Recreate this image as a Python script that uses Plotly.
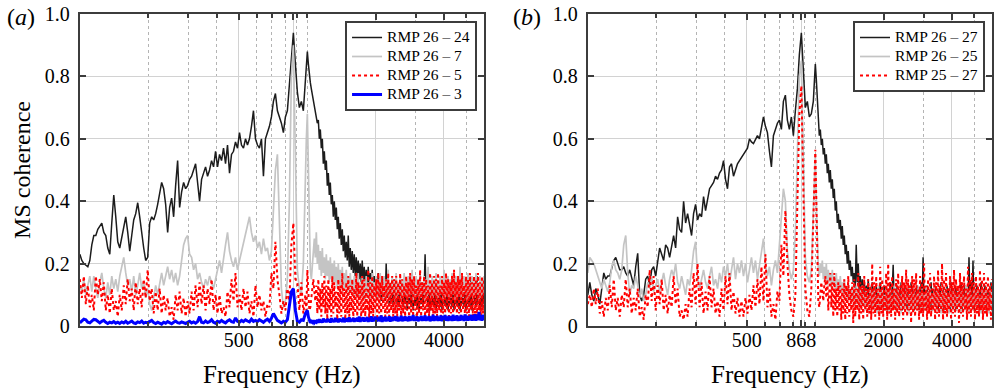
import numpy as np
import plotly.graph_objects as go

# ---------------- data ----------------
# analysis frequency bins (Hz): coarser below 1 kHz, finer above
freq_hz = np.concatenate([np.geomspace(100.0, 982.0, 114),
                          np.geomspace(992.0, 5997.0, 179)])

x_tick_vals = [500, 868, 2000, 4000]
x_tick_text = ["500", "868", "2000", "4000"]
x_minor_vals = [200, 300, 400, 600, 700, 800, 900, 1000, 3000, 5000, 6000]
y_tick_vals = [0, 0.2, 0.4, 0.6, 0.8, 1.0]
y_tick_text = ["0", "0.2", "0.4", "0.6", "0.8", "1.0"]

# ---- panel (a) ----
a_rmp_26_24 = [
    0.23, 0.21, 0.20, 0.195, 0.19, 0.21, 0.26, 0.29, 0.29, 0.31,
    0.32, 0.33, 0.30, 0.29, 0.25, 0.23, 0.33, 0.42, 0.35, 0.27,
    0.25, 0.28, 0.31, 0.35, 0.30, 0.24, 0.29, 0.34, 0.36, 0.395,
    0.35, 0.29, 0.25, 0.21, 0.22, 0.33, 0.35, 0.34, 0.36, 0.39,
    0.43, 0.46, 0.44, 0.39, 0.30, 0.38, 0.41, 0.35, 0.45, 0.53,
    0.38, 0.43, 0.46, 0.44, 0.45, 0.47, 0.48, 0.50, 0.52, 0.46,
    0.40, 0.47, 0.49, 0.51, 0.48, 0.50, 0.53, 0.51, 0.56, 0.51,
    0.55, 0.53, 0.57, 0.52, 0.58, 0.49, 0.55, 0.56, 0.59, 0.57,
    0.62, 0.58, 0.57, 0.60, 0.58, 0.60, 0.64, 0.69, 0.60, 0.58,
    0.57, 0.60, 0.48, 0.60, 0.62, 0.64, 0.67, 0.72, 0.745, 0.69,
    0.67, 0.65, 0.62, 0.67, 0.69, 0.78, 0.88, 0.94, 0.84, 0.75,
    0.70, 0.72, 0.69, 0.80,
    # above 1 kHz
    0.86, 0.88, 0.84, 0.80, 0.78, 0.76, 0.74, 0.72, 0.70, 0.69,
    0.67, 0.65, 0.66, 0.60, 0.63, 0.57, 0.60, 0.52, 0.56, 0.50,
    0.53, 0.45, 0.49, 0.42, 0.46, 0.39, 0.42, 0.35, 0.40, 0.34,
    0.38, 0.31, 0.35, 0.28, 0.33, 0.26, 0.31, 0.24, 0.29, 0.22,
    0.27, 0.21, 0.29, 0.19, 0.25, 0.18, 0.24, 0.17, 0.23, 0.16,
    0.22, 0.16, 0.21, 0.15, 0.20, 0.14, 0.21, 0.14, 0.19, 0.13,
    0.18, 0.12, 0.19, 0.12, 0.17, 0.11, 0.18, 0.10, 0.16, 0.11,
    0.15, 0.09, 0.17, 0.10, 0.14, 0.08, 0.16, 0.09, 0.15, 0.08,
    0.20, 0.09, 0.14, 0.07, 0.13, 0.08, 0.15, 0.06, 0.12, 0.08,
    0.14, 0.07, 0.12, 0.06, 0.15, 0.08, 0.11, 0.06, 0.13, 0.07,
    0.12, 0.05, 0.14, 0.07, 0.11, 0.06, 0.13, 0.05, 0.12, 0.07,
    0.13, 0.06, 0.11, 0.05, 0.12, 0.07, 0.14, 0.06, 0.11, 0.23,
    0.08, 0.12, 0.06, 0.11, 0.05, 0.13, 0.07, 0.12, 0.06, 0.11,
    0.05, 0.12, 0.07, 0.13, 0.06, 0.11, 0.05, 0.12, 0.07, 0.14,
    0.06, 0.12, 0.05, 0.11, 0.07, 0.13, 0.06, 0.12, 0.05, 0.11,
    0.07, 0.13, 0.06, 0.12, 0.05, 0.11, 0.07, 0.14, 0.06, 0.12,
    0.05, 0.11, 0.07, 0.12, 0.06, 0.15, 0.05, 0.11, 0.07, 0.13,
    0.06, 0.16, 0.07, 0.12, 0.05, 0.11, 0.06, 0.12, 0.07,
]
a_rmp_26_7 = [
    0.13, 0.11, 0.15, 0.10, 0.13, 0.16, 0.11, 0.16, 0.12, 0.09,
    0.14, 0.17, 0.12, 0.09, 0.14, 0.10, 0.16, 0.12, 0.15, 0.11,
    0.16, 0.19, 0.22, 0.17, 0.13, 0.15, 0.11, 0.16, 0.10, 0.13,
    0.17, 0.12, 0.14, 0.09, 0.12, 0.07, 0.05, 0.09, 0.13, 0.10,
    0.13, 0.17, 0.13, 0.16, 0.19, 0.15, 0.18, 0.14, 0.17, 0.13,
    0.16, 0.21, 0.26, 0.28, 0.29, 0.23, 0.22, 0.18, 0.20, 0.15,
    0.17, 0.14, 0.12, 0.15, 0.13, 0.16, 0.14, 0.12, 0.15, 0.18,
    0.21, 0.17, 0.22, 0.26, 0.30, 0.24, 0.21, 0.19, 0.22, 0.18,
    0.21, 0.24, 0.27, 0.30, 0.33, 0.35, 0.30, 0.27, 0.29, 0.25,
    0.27, 0.23, 0.28, 0.24, 0.25, 0.21, 0.24, 0.35, 0.50, 0.55,
    0.30, 0.12, 0.06, 0.08, 0.15, 0.40, 0.80, 0.90, 0.55, 0.18,
    0.12, 0.10, 0.20, 0.55,
    # above 1 kHz
    0.60, 0.68, 0.50, 0.30, 0.18, 0.15, 0.20, 0.24, 0.28, 0.22,
    0.30, 0.20, 0.26, 0.18, 0.24, 0.16, 0.25, 0.17, 0.22, 0.15,
    0.23, 0.16, 0.21, 0.14, 0.22, 0.15, 0.20, 0.13, 0.21, 0.14,
    0.19, 0.12, 0.20, 0.13, 0.18, 0.12, 0.19, 0.11, 0.17, 0.12,
    0.18, 0.11, 0.16, 0.10, 0.17, 0.11, 0.15, 0.10, 0.16, 0.09,
    0.15, 0.10, 0.17, 0.09, 0.14, 0.10, 0.16, 0.09, 0.15, 0.08,
    0.16, 0.09, 0.14, 0.10, 0.15, 0.08, 0.17, 0.09, 0.14, 0.10,
    0.16, 0.08, 0.15, 0.09, 0.17, 0.10, 0.14, 0.08, 0.16, 0.09,
    0.15, 0.10, 0.18, 0.08, 0.14, 0.09, 0.16, 0.10, 0.15, 0.08,
    0.17, 0.09, 0.14, 0.10, 0.16, 0.08, 0.15, 0.09, 0.17, 0.10,
    0.14, 0.08, 0.16, 0.09, 0.15, 0.10, 0.18, 0.08, 0.14, 0.09,
    0.16, 0.10, 0.15, 0.08, 0.17, 0.09, 0.14, 0.10, 0.16, 0.08,
    0.15, 0.09, 0.19, 0.10, 0.14, 0.08, 0.16, 0.09, 0.15, 0.10,
    0.17, 0.08, 0.14, 0.09, 0.16, 0.10, 0.15, 0.08, 0.18, 0.09,
    0.14, 0.10, 0.16, 0.08, 0.15, 0.09, 0.17, 0.10, 0.14, 0.08,
    0.16, 0.09, 0.15, 0.10, 0.19, 0.08, 0.14, 0.09, 0.16, 0.10,
    0.15, 0.08, 0.17, 0.09, 0.14, 0.10, 0.16, 0.08, 0.15, 0.09,
    0.17, 0.10, 0.14, 0.08, 0.16, 0.09, 0.15, 0.10, 0.16,
]
a_rmp_26_5 = [
    0.15, 0.09, 0.16, 0.07, 0.13, 0.06, 0.10, 0.05, 0.16, 0.10,
    0.15, 0.08, 0.14, 0.05, 0.10, 0.04, 0.12, 0.05, 0.08, 0.03,
    0.10, 0.05, 0.13, 0.07, 0.15, 0.08, 0.12, 0.05, 0.14, 0.07,
    0.12, 0.06, 0.15, 0.09, 0.18, 0.08, 0.12, 0.04, 0.11, 0.05,
    0.12, 0.04, 0.10, 0.05, 0.09, 0.03, 0.06, 0.02, 0.10, 0.05,
    0.11, 0.04, 0.09, 0.03, 0.08, 0.04, 0.11, 0.05, 0.13, 0.06,
    0.14, 0.07, 0.13, 0.05, 0.12, 0.07, 0.15, 0.05, 0.10, 0.04,
    0.10, 0.04, 0.06, 0.03, 0.11, 0.06, 0.15, 0.08, 0.17, 0.06,
    0.10, 0.05, 0.12, 0.06, 0.11, 0.04, 0.08, 0.03, 0.13, 0.06,
    0.10, 0.05, 0.08, 0.03, 0.07, 0.06, 0.17, 0.12, 0.27, 0.15,
    0.10, 0.04, 0.08, 0.05, 0.12, 0.08, 0.26, 0.33, 0.15, 0.14,
    0.05, 0.14, 0.04, 0.10,
    # above 1 kHz
    0.05, 0.18, 0.11, 0.05, 0.06, 0.10, 0.13, 0.15, 0.11, 0.08,
    0.13, 0.04, 0.15, 0.05, 0.12, 0.03, 0.14, 0.06, 0.16, 0.04,
    0.13, 0.02, 0.15, 0.05, 0.12, 0.03, 0.16, 0.04, 0.14, 0.06,
    0.11, 0.02, 0.15, 0.04, 0.13, 0.03, 0.17, 0.05, 0.12, 0.02,
    0.14, 0.04, 0.16, 0.03, 0.13, 0.05, 0.15, 0.02, 0.12, 0.04,
    0.17, 0.03, 0.14, 0.05, 0.13, 0.02, 0.16, 0.04, 0.15, 0.03,
    0.12, 0.05, 0.18, 0.02, 0.14, 0.04, 0.16, 0.03, 0.13, 0.05,
    0.15, 0.02, 0.17, 0.04, 0.14, 0.03, 0.16, 0.05, 0.13, 0.02,
    0.15, 0.04, 0.17, 0.03, 0.14, 0.05, 0.16, 0.03, 0.15, 0.04,
    0.16, 0.03, 0.14, 0.05, 0.17, 0.02, 0.15, 0.04, 0.13, 0.03,
    0.16, 0.05, 0.14, 0.02, 0.17, 0.04, 0.15, 0.03, 0.16, 0.05,
    0.13, 0.02, 0.15, 0.04, 0.18, 0.03, 0.14, 0.05, 0.16, 0.02,
    0.15, 0.04, 0.13, 0.03, 0.17, 0.05, 0.14, 0.02, 0.16, 0.04,
    0.15, 0.03, 0.17, 0.05, 0.13, 0.02, 0.16, 0.04, 0.14, 0.03,
    0.17, 0.05, 0.15, 0.02, 0.14, 0.04, 0.16, 0.03, 0.18, 0.05,
    0.14, 0.02, 0.16, 0.04, 0.15, 0.03, 0.17, 0.05, 0.13, 0.02,
    0.16, 0.04, 0.15, 0.03, 0.17, 0.05, 0.14, 0.02, 0.16, 0.04,
    0.15, 0.03, 0.17, 0.05, 0.14, 0.02, 0.16, 0.04, 0.15,
]
a_rmp_26_3 = [
    0.010, 0.016, 0.022, 0.020, 0.012, 0.010, 0.016, 0.021, 0.020, 0.014,
    0.010, 0.015, 0.018, 0.012, 0.008, 0.012, 0.010, 0.014, 0.009, 0.012,
    0.008, 0.013, 0.010, 0.015, 0.009, 0.012, 0.016, 0.010, 0.008, 0.013,
    0.011, 0.016, 0.009, 0.012, 0.010, 0.014, 0.018, 0.011, 0.008, 0.012,
    0.010, 0.006, 0.012, 0.009, 0.014, 0.010, 0.007, 0.012, 0.016, 0.011,
    0.009, 0.013, 0.010, 0.008, 0.012, 0.015, 0.010, 0.013, 0.009, 0.014,
    0.030, 0.012, 0.010, 0.016, 0.011, 0.014, 0.020, 0.012, 0.009, 0.015,
    0.012, 0.018, 0.013, 0.010, 0.016, 0.020, 0.014, 0.012, 0.026, 0.015,
    0.012, 0.018, 0.014, 0.020, 0.016, 0.013, 0.022, 0.015, 0.018, 0.014,
    0.020, 0.016, 0.012, 0.018, 0.022, 0.015, 0.025, 0.040, 0.030, 0.018,
    0.014, 0.010, 0.015, 0.012, 0.020, 0.060, 0.110, 0.120, 0.050, 0.015,
    0.012, 0.020, 0.018, 0.040,
    # above 1 kHz
    0.045, 0.050, 0.030, 0.015, 0.010, 0.015, 0.012, 0.018, 0.010, 0.014,
    0.012, 0.020, 0.010, 0.022, 0.012, 0.019, 0.011, 0.024, 0.013, 0.020,
    0.012, 0.023, 0.014, 0.021, 0.011, 0.025, 0.013, 0.020, 0.012, 0.026,
    0.014, 0.022, 0.012, 0.024, 0.015, 0.021, 0.013, 0.027, 0.012, 0.023,
    0.015, 0.025, 0.013, 0.028, 0.014, 0.022, 0.016, 0.026, 0.013, 0.024,
    0.015, 0.027, 0.014, 0.030, 0.013, 0.025, 0.016, 0.028, 0.014, 0.026,
    0.016, 0.029, 0.013, 0.025, 0.015, 0.031, 0.014, 0.027, 0.016, 0.030,
    0.014, 0.026, 0.016, 0.029, 0.015, 0.034, 0.013, 0.028, 0.016, 0.030,
    0.015, 0.027, 0.017, 0.031, 0.014, 0.029, 0.016, 0.028, 0.018, 0.032,
    0.016, 0.030, 0.015, 0.027, 0.017, 0.033, 0.015, 0.029, 0.016, 0.031,
    0.017, 0.028, 0.015, 0.032, 0.016, 0.030, 0.018, 0.035, 0.016, 0.029,
    0.017, 0.031, 0.015, 0.028, 0.018, 0.033, 0.016, 0.030, 0.017, 0.034,
    0.016, 0.029, 0.018, 0.032, 0.015, 0.030, 0.017, 0.036, 0.016, 0.031,
    0.018, 0.033, 0.016, 0.029, 0.017, 0.034, 0.015, 0.031, 0.018, 0.035,
    0.017, 0.030, 0.016, 0.033, 0.018, 0.031, 0.016, 0.036, 0.017, 0.032,
    0.018, 0.034, 0.016, 0.030, 0.017, 0.035, 0.019, 0.032, 0.016, 0.037,
    0.018, 0.033, 0.017, 0.031, 0.019, 0.036, 0.017, 0.034, 0.018, 0.038,
    0.017, 0.035, 0.019, 0.045, 0.018, 0.034, 0.017, 0.036, 0.019,
]

# ---- panel (b) ----
b_rmp_26_27 = [
    0.10, 0.14, 0.10, 0.08, 0.12, 0.10, 0.07, 0.12, 0.17, 0.15,
    0.16, 0.16, 0.19, 0.21, 0.22, 0.20, 0.18, 0.18, 0.19, 0.17,
    0.16, 0.18, 0.15, 0.13, 0.19, 0.233, 0.10, 0.08, 0.10, 0.15,
    0.16, 0.13, 0.18, 0.19, 0.16, 0.20, 0.25, 0.23, 0.21, 0.26,
    0.25, 0.22, 0.26, 0.29, 0.25, 0.35, 0.31, 0.30, 0.40, 0.33,
    0.36, 0.33, 0.29, 0.36, 0.39, 0.34, 0.36, 0.35, 0.415, 0.37,
    0.40, 0.44, 0.45, 0.46, 0.48, 0.47, 0.49, 0.50, 0.53, 0.47,
    0.44, 0.51, 0.52, 0.48, 0.50, 0.52, 0.53, 0.54, 0.55, 0.56,
    0.57, 0.60, 0.59, 0.585, 0.60, 0.61, 0.60, 0.64, 0.67, 0.64,
    0.62, 0.56, 0.51, 0.61, 0.63, 0.65, 0.66, 0.63, 0.72, 0.74,
    0.66, 0.63, 0.67, 0.61, 0.69, 0.76, 0.87, 0.94, 0.82, 0.70,
    0.72, 0.67, 0.68, 0.72,
    # above 1 kHz
    0.78, 0.84, 0.79, 0.73, 0.66, 0.61, 0.63, 0.58, 0.60, 0.55,
    0.57, 0.52, 0.55, 0.49, 0.52, 0.46, 0.50, 0.44, 0.47, 0.41,
    0.44, 0.37, 0.40, 0.33, 0.36, 0.31, 0.34, 0.28, 0.32, 0.26,
    0.29, 0.23, 0.26, 0.20, 0.24, 0.18, 0.21, 0.16, 0.19, 0.14,
    0.17, 0.12, 0.26, 0.14, 0.20, 0.11, 0.16, 0.10, 0.15, 0.09,
    0.14, 0.08, 0.13, 0.07, 0.15, 0.09, 0.12, 0.06, 0.14, 0.08,
    0.12, 0.06, 0.13, 0.07, 0.11, 0.05, 0.14, 0.08, 0.12, 0.06,
    0.13, 0.07, 0.11, 0.05, 0.12, 0.08, 0.14, 0.06, 0.11, 0.196,
    0.07, 0.12, 0.05, 0.13, 0.07, 0.11, 0.06, 0.14, 0.05, 0.12,
    0.07, 0.13, 0.06, 0.11, 0.05, 0.12, 0.07, 0.14, 0.06, 0.12,
    0.05, 0.11, 0.07, 0.13, 0.06, 0.12, 0.05, 0.14, 0.07, 0.22,
    0.06, 0.12, 0.05, 0.13, 0.07, 0.11, 0.06, 0.14, 0.05, 0.12,
    0.07, 0.13, 0.06, 0.11, 0.05, 0.12, 0.07, 0.14, 0.06, 0.12,
    0.05, 0.11, 0.07, 0.13, 0.06, 0.12, 0.05, 0.14, 0.07, 0.11,
    0.06, 0.13, 0.05, 0.12, 0.07, 0.11, 0.06, 0.14, 0.05, 0.12,
    0.07, 0.13, 0.06, 0.11, 0.05, 0.22, 0.07, 0.14, 0.06, 0.21,
    0.05, 0.12, 0.07, 0.13, 0.06, 0.11, 0.05, 0.14, 0.07, 0.12,
    0.06, 0.13, 0.05, 0.11, 0.07, 0.12, 0.06, 0.14, 0.05,
]
b_rmp_26_25 = [
    0.17, 0.22, 0.21, 0.20, 0.18, 0.16, 0.14, 0.12, 0.15, 0.13,
    0.11, 0.14, 0.19, 0.21, 0.18, 0.17, 0.15, 0.18, 0.26, 0.29,
    0.17, 0.10, 0.13, 0.12, 0.16, 0.13, 0.09, 0.12, 0.08, 0.10,
    0.14, 0.12, 0.16, 0.11, 0.13, 0.15, 0.11, 0.14, 0.17, 0.13,
    0.10, 0.15, 0.18, 0.16, 0.20, 0.14, 0.12, 0.16, 0.13, 0.10,
    0.15, 0.13, 0.18, 0.24, 0.27, 0.16, 0.12, 0.15, 0.18, 0.14,
    0.12, 0.16, 0.19, 0.13, 0.15, 0.12, 0.17, 0.14, 0.19, 0.16,
    0.20, 0.14, 0.18, 0.22, 0.15, 0.20, 0.17, 0.21, 0.16, 0.20,
    0.14, 0.18, 0.22, 0.17, 0.21, 0.15, 0.19, 0.23, 0.28, 0.20,
    0.16, 0.19, 0.13, 0.18, 0.21, 0.17, 0.25, 0.35, 0.44, 0.40,
    0.24, 0.18, 0.15, 0.18, 0.30, 0.55, 0.80, 0.85, 0.50, 0.22,
    0.16, 0.14, 0.18, 0.40,
    # above 1 kHz
    0.50, 0.55, 0.40, 0.25, 0.18, 0.16, 0.20, 0.17, 0.21, 0.15,
    0.19, 0.14, 0.20, 0.13, 0.18, 0.14, 0.17, 0.12, 0.18, 0.13,
    0.16, 0.11, 0.17, 0.12, 0.15, 0.10, 0.16, 0.11, 0.14, 0.09,
    0.15, 0.10, 0.13, 0.08, 0.14, 0.09, 0.12, 0.07, 0.13, 0.08,
    0.12, 0.06, 0.13, 0.07, 0.11, 0.05, 0.12, 0.06, 0.13, 0.07,
    0.11, 0.05, 0.12, 0.06, 0.10, 0.04, 0.13, 0.06, 0.11, 0.05,
    0.12, 0.07, 0.10, 0.04, 0.13, 0.06, 0.11, 0.05, 0.12, 0.07,
    0.10, 0.05, 0.13, 0.06, 0.11, 0.04, 0.12, 0.07, 0.10, 0.05,
    0.13, 0.06, 0.11, 0.05, 0.12, 0.07, 0.10, 0.04, 0.14, 0.06,
    0.11, 0.05, 0.12, 0.07, 0.10, 0.04, 0.13, 0.06, 0.11, 0.05,
    0.12, 0.06, 0.10, 0.05, 0.13, 0.07, 0.11, 0.04, 0.12, 0.06,
    0.10, 0.05, 0.13, 0.06, 0.11, 0.04, 0.12, 0.07, 0.10, 0.05,
    0.13, 0.06, 0.11, 0.05, 0.12, 0.07, 0.10, 0.04, 0.14, 0.06,
    0.11, 0.05, 0.12, 0.07, 0.10, 0.04, 0.13, 0.06, 0.11, 0.05,
    0.12, 0.06, 0.10, 0.05, 0.13, 0.07, 0.11, 0.04, 0.12, 0.06,
    0.10, 0.05, 0.13, 0.06, 0.11, 0.04, 0.12, 0.07, 0.10, 0.05,
    0.13, 0.06, 0.11, 0.05, 0.12, 0.07, 0.10, 0.04, 0.12, 0.06,
    0.11, 0.05, 0.12, 0.07, 0.10, 0.04, 0.13, 0.06, 0.11,
]
b_rmp_25_27 = [
    0.07, 0.10, 0.06, 0.12, 0.07, 0.12, 0.04, 0.08, 0.03, 0.09,
    0.05, 0.13, 0.06, 0.15, 0.05, 0.09, 0.03, 0.10, 0.06, 0.15,
    0.06, 0.12, 0.04, 0.09, 0.05, 0.12, 0.03, 0.06, 0.02, 0.10,
    0.06, 0.18, 0.08, 0.16, 0.05, 0.13, 0.07, 0.15, 0.05, 0.10,
    0.04, 0.10, 0.06, 0.16, 0.07, 0.12, 0.03, 0.05, 0.02, 0.07,
    0.03, 0.12, 0.06, 0.17, 0.07, 0.20, 0.06, 0.14, 0.04, 0.11,
    0.05, 0.16, 0.06, 0.12, 0.04, 0.08, 0.03, 0.12, 0.05, 0.16,
    0.07, 0.17, 0.05, 0.11, 0.04, 0.09, 0.03, 0.08, 0.03, 0.09,
    0.04, 0.10, 0.05, 0.13, 0.06, 0.15, 0.07, 0.19, 0.08, 0.23,
    0.06, 0.12, 0.03, 0.07, 0.02, 0.11, 0.08, 0.26, 0.16, 0.37,
    0.20, 0.10, 0.05, 0.03, 0.10, 0.40, 0.68, 0.77, 0.40, 0.12,
    0.05, 0.03, 0.12, 0.40,
    # above 1 kHz
    0.45, 0.565, 0.40, 0.20, 0.08, 0.06, 0.10, 0.14, 0.11, 0.08,
    0.13, 0.16, 0.09, 0.15, 0.05, 0.12, 0.17, 0.06, 0.14, 0.03,
    0.17, 0.05, 0.12, 0.03, 0.14, 0.05, 0.13, 0.02, 0.12, 0.04,
    0.15, 0.02, 0.13, 0.04, 0.16, 0.03, 0.12, 0.05, 0.14, 0.01,
    0.15, 0.03, 0.12, 0.05, 0.17, 0.02, 0.14, 0.04, 0.13, 0.02,
    0.16, 0.05, 0.12, 0.03, 0.15, 0.04, 0.13, 0.02, 0.20, 0.04,
    0.14, 0.03, 0.16, 0.05, 0.12, 0.02, 0.19, 0.04, 0.15, 0.03,
    0.13, 0.05, 0.17, 0.02, 0.20, 0.04, 0.14, 0.03, 0.16, 0.05,
    0.12, 0.02, 0.15, 0.04, 0.17, 0.03, 0.13, 0.05, 0.16, 0.02,
    0.14, 0.04, 0.18, 0.03, 0.15, 0.05, 0.13, 0.01, 0.16, 0.04,
    0.15, 0.03, 0.17, 0.05, 0.12, 0.02, 0.16, 0.04, 0.14, 0.03,
    0.20, 0.05, 0.13, 0.02, 0.15, 0.04, 0.17, 0.03, 0.12, 0.05,
    0.16, 0.02, 0.14, 0.04, 0.18, 0.03, 0.13, 0.05, 0.20, 0.02,
    0.15, 0.04, 0.17, 0.03, 0.12, 0.05, 0.16, 0.02, 0.14, 0.04,
    0.18, 0.03, 0.15, 0.05, 0.13, 0.01, 0.17, 0.04, 0.14, 0.03,
    0.16, 0.05, 0.12, 0.02, 0.19, 0.04, 0.15, 0.03, 0.17, 0.05,
    0.14, 0.02, 0.16, 0.04, 0.13, 0.03, 0.18, 0.05, 0.15, 0.02,
    0.17, 0.04, 0.14, 0.03, 0.16, 0.05, 0.13, 0.02, 0.15,
]

series_a = [
    ("RMP 26 – 24", a_rmp_26_24, "#1c1c1c", 1.5, "solid"),
    ("RMP 26 – 7", a_rmp_26_7, "#c4c4c4", 1.7, "solid"),
    ("RMP 26 – 5", a_rmp_26_5, "#ff0000", 2.0, "dot"),
    ("RMP 26 – 3", a_rmp_26_3, "#0000ff", 3.0, "solid"),
]
series_b = [
    ("RMP 26 – 27", b_rmp_26_27, "#1c1c1c", 1.5, "solid"),
    ("RMP 26 – 25", b_rmp_26_25, "#c4c4c4", 1.7, "solid"),
    ("RMP 25 – 27", b_rmp_25_27, "#ff0000", 2.0, "dot"),
]

for _, ys, *_ in series_a + series_b:
    assert len(ys) == len(freq_hz), len(ys)

# ---------------- figure ----------------
W, H = 994, 389
ML, MR, MT, MB = 0, 0, 14, 63
PW, PH = W - ML - MR, H - MT - MB
FONT = "Liberation Serif, Times New Roman, serif"
FRAME = "#3c3c3c"
LEGEND_TEXT_PX = 15.5


def px_x(p):
    return (p - ML) / PW


def px_y(p):
    return (H - MB - p) / PH


def legend_label(name):
    return f'<span style="font-size:{LEGEND_TEXT_PX}px">{name}</span>'


fig = go.Figure()
for name, ys, col, w, dash in series_a:
    fig.add_trace(go.Scatter(x=freq_hz, y=ys, mode="lines", name=legend_label(name),
                             line=dict(color=col, width=w, dash=dash),
                             xaxis="x", yaxis="y", legend="legend", hoverinfo="skip"))
for name, ys, col, w, dash in series_b:
    fig.add_trace(go.Scatter(x=freq_hz, y=ys, mode="lines", name=legend_label(name),
                             line=dict(color=col, width=w, dash=dash),
                             xaxis="x2", yaxis="y2", legend="legend2", hoverinfo="skip"))

xcommon = dict(
    type="log", range=[2, np.log10(6000)],
    tickmode="array", tickvals=x_tick_vals, ticktext=x_tick_text,
    showgrid=True, gridcolor="#d2d2d2", gridwidth=1,
    minor=dict(tickmode="array", tickvals=x_minor_vals, showgrid=True,
               griddash="dot", gridcolor="#b4b4b4", gridwidth=1,
               ticks="inside", ticklen=4, tickcolor=FRAME),
    showline=True, linecolor=FRAME, linewidth=2, mirror="ticks",
    ticks="inside", ticklen=6, tickcolor=FRAME, tickwidth=1.5,
    tickfont=dict(family=FONT, size=20, color="black"),
    ticklabelstandoff=-5,
    zeroline=False,
)
ycommon = dict(
    range=[0, 1], tickmode="array", tickvals=y_tick_vals, ticktext=y_tick_text,
    showgrid=True, gridcolor="#d2d2d2", gridwidth=1,
    showline=True, linecolor=FRAME, linewidth=2, mirror="ticks",
    ticks="inside", ticklen=6, tickcolor=FRAME, tickwidth=1.5,
    tickfont=dict(family=FONT, size=20, color="black"),
    ticklabelstandoff=4,
    zeroline=False,
)

legend_common = dict(
    bgcolor="white", bordercolor=FRAME, borderwidth=2,
    font=dict(family=FONT, size=10.5, color="black"),
    xanchor="right", yanchor="top", tracegroupgap=0, itemwidth=30,
)

fig.update_layout(
    width=W, height=H,
    margin=dict(l=ML, r=MR, t=MT, b=MB, pad=0),
    paper_bgcolor="white", plot_bgcolor="white",
    xaxis=dict(domain=[px_x(80), px_x(485)], anchor="y", **xcommon),
    yaxis=dict(domain=[0, 1], anchor="x", **ycommon),
    xaxis2=dict(domain=[px_x(589), px_x(994)], anchor="y2", **xcommon),
    yaxis2=dict(domain=[0, 1], anchor="x2", **ycommon),
    legend=dict(x=px_x(478), y=px_y(21), **legend_common),
    legend2=dict(x=px_x(987), y=px_y(21), **legend_common),
    showlegend=True,
    annotations=[
        dict(text="(<i>a</i>)", x=px_x(5), y=px_y(17), xref="paper", yref="paper",
             xanchor="left", yanchor="middle", showarrow=False,
             font=dict(family=FONT, size=24, color="black")),
        dict(text="(<i>b</i>)", x=px_x(512), y=px_y(17), xref="paper", yref="paper",
             xanchor="left", yanchor="middle", showarrow=False,
             font=dict(family=FONT, size=24, color="black")),
        dict(text="Frequency (Hz)", x=px_x(282.5), y=px_y(375), xref="paper", yref="paper",
             xanchor="center", yanchor="middle", showarrow=False,
             font=dict(family=FONT, size=25, color="black")),
        dict(text="Frequency (Hz)", x=px_x(791.5), y=px_y(375), xref="paper", yref="paper",
             xanchor="center", yanchor="middle", showarrow=False,
             font=dict(family=FONT, size=25, color="black")),
        dict(text="MS coherence", x=px_x(22), y=px_y(170), xref="paper", yref="paper",
             xanchor="center", yanchor="middle", textangle=-90, showarrow=False,
             font=dict(family=FONT, size=24, color="black")),
    ],
)

fig.write_html(
    "out.html",
    config={"displayModeBar": False},
    post_script="document.body.style.margin='0px';document.body.style.overflow='hidden';",
)
